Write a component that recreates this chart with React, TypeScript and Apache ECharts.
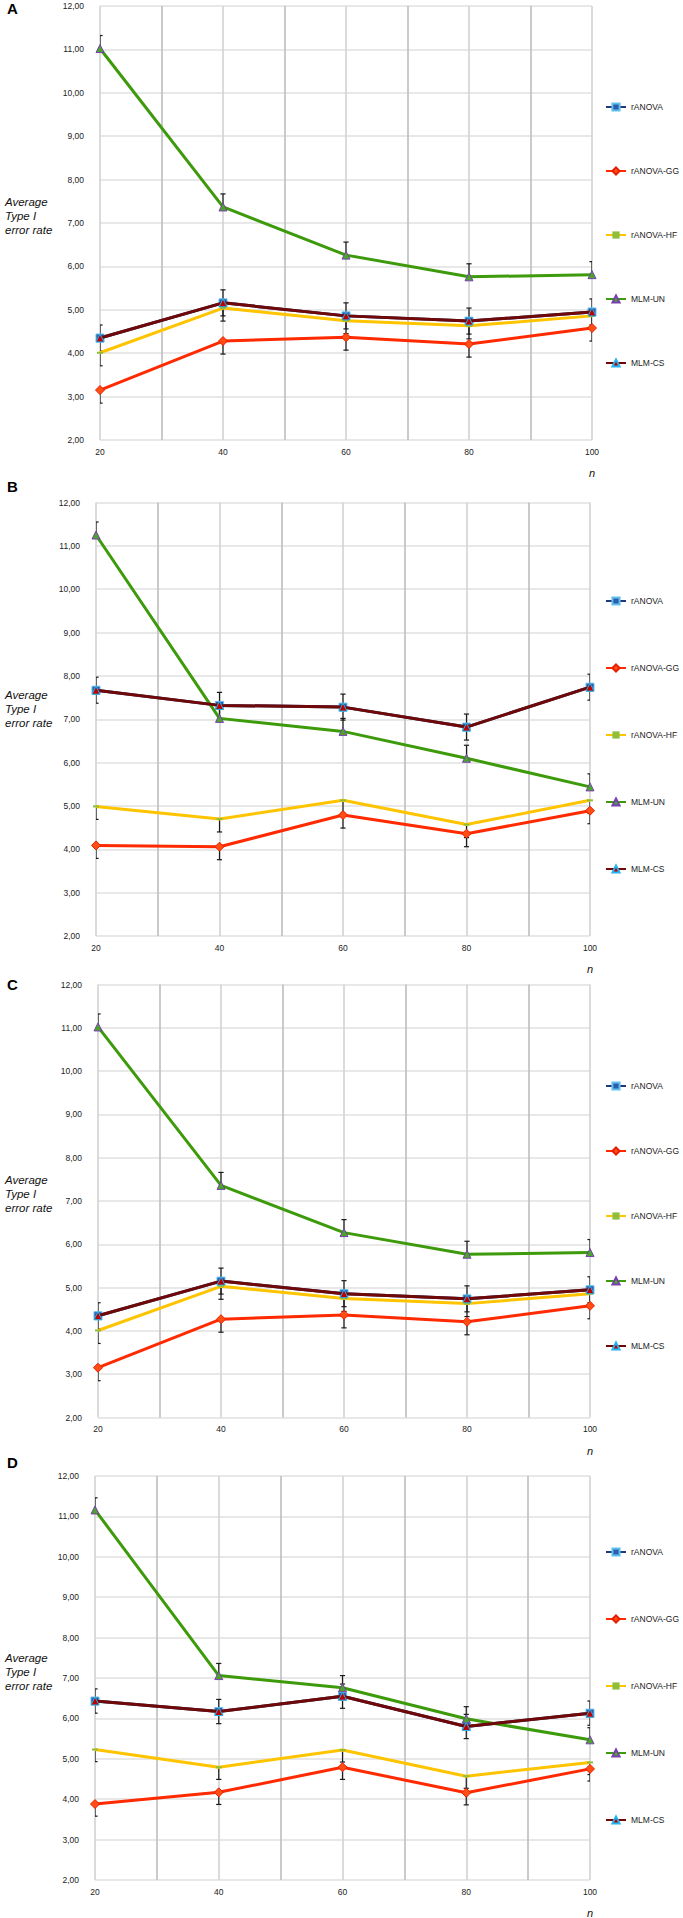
import React, { useEffect, useRef } from "react";
import * as echarts from "echarts";

// ---------- data ----------
const nValues = [20, 40, 60, 80, 100];
const seriesNames = ["rANOVA", "rANOVA-GG", "rANOVA-HF", "MLM-UN", "MLM-CS"];
const yTicks = [2, 3, 4, 5, 6, 7, 8, 9, 10, 11, 12];
const panelLabels = ["A", "B", "C", "D"];

// Panel A
const rANOVA_A = [4.35, 5.16, 4.86, 4.74, 4.95];
const rANOVAGG_A = [3.15, 4.28, 4.37, 4.21, 4.58];
const rANOVAHF_A = [4.01, 5.04, 4.75, 4.63, 4.86];
const mlmUN_A = [11.02, 7.37, 6.26, 5.76, 5.81];
const mlmCS_A = [4.35, 5.16, 4.86, 4.74, 4.95];
// Panel B
const rANOVA_B = [7.67, 7.32, 7.28, 6.82, 7.74];
const rANOVAGG_B = [4.09, 4.06, 4.79, 4.36, 4.89];
const rANOVAHF_B = [4.99, 4.7, 5.13, 4.57, 5.13];
const mlmUN_B = [11.25, 7.02, 6.72, 6.1, 5.44];
const mlmCS_B = [7.67, 7.32, 7.28, 6.82, 7.74];
// Panel C
const rANOVA_C = [4.35, 5.15, 4.86, 4.74, 4.95];
const rANOVAGG_C = [3.15, 4.27, 4.37, 4.21, 4.58];
const rANOVAHF_C = [4.01, 5.03, 4.75, 4.63, 4.86];
const mlmUN_C = [11.02, 7.36, 6.27, 5.77, 5.81];
const mlmCS_C = [4.35, 5.15, 4.86, 4.74, 4.95];
// Panel D
const rANOVA_D = [6.43, 6.17, 6.55, 5.8, 6.13];
const rANOVAGG_D = [3.88, 4.17, 4.79, 4.16, 4.75];
const rANOVAHF_D = [5.23, 4.79, 5.22, 4.57, 4.91];
const mlmUN_D = [11.16, 7.06, 6.76, 5.99, 5.47];
const mlmCS_D = [6.43, 6.17, 6.55, 5.8, 6.13];

// error bar half widths per panel
const errorHalf = [0.3, 0.3, 0.3, 0.3];
// error bar direction per series (+1 plus, -1 minus)
const errorDir = [1, -1, -1, 1, -1];

const panelValues = [
  [rANOVA_A, rANOVAGG_A, rANOVAHF_A, mlmUN_A, mlmCS_A],
  [rANOVA_B, rANOVAGG_B, rANOVAHF_B, mlmUN_B, mlmCS_B],
  [rANOVA_C, rANOVAGG_C, rANOVAHF_C, mlmUN_C, mlmCS_C],
  [rANOVA_D, rANOVAGG_D, rANOVAHF_D, mlmUN_D, mlmCS_D],
];

// ---------- layout ----------
const W = 683;
const H = 1918;
const grids = [
  { left: 100, top: 6, width: 492, height: 434 },
  { left: 96, top: 502.5, width: 494, height: 433.5 },
  { left: 98, top: 984.5, width: 492, height: 433 },
  { left: 95, top: 1476, width: 495, height: 404 },
];
const legendTops = [97, 591, 1076, 1542];
const legendGaps = [54, 57, 55, 57];
const letterY = [1, 479, 977, 1455];
const titleY = [195, 688, 1173, 1651];

const FONT = "Liberation Sans, Arial, sans-serif";

const styles = [
  {
    color: "#1f3a78",
    symbol: "rect",
    symbolSize: 8,
    itemStyle: { color: "#2b5fae", borderColor: "#63c0ee", borderWidth: 1 },
  },
  {
    color: "#ff2a00",
    symbol: "diamond",
    symbolSize: 9,
    itemStyle: { color: "#ff4d14", borderColor: "#e81e00", borderWidth: 1 },
  },
  {
    color: "#ffc400",
    symbol: "rect",
    symbolSize: [6, 2],
    itemStyle: { color: "#8fbf3a", borderWidth: 0 },
  },
  {
    color: "#3d9a0b",
    symbol: "triangle",
    symbolSize: 8,
    itemStyle: { color: "#4aa52a", borderColor: "#7a3fb0", borderWidth: 1 },
  },
  {
    color: "#700808",
    symbol: "triangle",
    symbolSize: 8,
    itemStyle: { color: "#c00000", borderColor: "#22b5f0", borderWidth: 1 },
  },
];

function errRender(params: any, api: any) {
  const x = api.value(0);
  const from = api.value(1);
  const to = api.value(2);
  const p0 = api.coord([x, from]);
  const p1 = api.coord([x, to]);
  const cs = params.coordSys;
  const rect = { x: cs.x, y: cs.y, width: cs.width, height: cs.height };
  const top = Math.min(p0[1], p1[1]);
  const h = Math.abs(p1[1] - p0[1]);
  const raw = [
    { x: p0[0] - 0.6, y: top, width: 1.2, height: h },
    { x: p1[0] - 2.6, y: p1[1] - 0.6, width: 5.2, height: 1.2 },
  ];
  const children: any[] = [];
  raw.forEach((r) => {
    const c = echarts.graphic.clipRectByRect(r, rect);
    if (c) children.push({ type: "rect", shape: c, style: { fill: "#1a1a1a" } });
  });
  return { type: "group", children };
}

function buildOption() {
  const series: any[] = [];
  const xAxis: any[] = [];
  const yAxis: any[] = [];
  const legend: any[] = [];
  const graphic: any[] = [];

  grids.forEach((g, pi) => {
    xAxis.push({
      gridIndex: pi,
      type: "value",
      min: 20,
      max: 100,
      interval: 10,
      axisLine: { show: false },
      axisTick: { show: false },
      axisLabel: {
        formatter: (v: number) => (v % 20 === 0 ? String(v) : ""),
        fontFamily: FONT,
        fontSize: 8.5,
        color: "#222",
        margin: 7,
      },
      splitLine: {
        show: true,
        lineStyle: { color: ["#d2d2d2", "#bdbdbd"], width: 1.6 },
      },
    });
    yAxis.push({
      gridIndex: pi,
      type: "value",
      min: yTicks[0],
      max: yTicks[yTicks.length - 1],
      interval: 1,
      axisLine: { show: false },
      axisTick: { show: false },
      axisLabel: {
        formatter: (v: number) => v.toFixed(2).replace(".", ","),
        fontFamily: FONT,
        fontSize: 8.5,
        color: "#222",
        margin: 16,
      },
      splitLine: { show: true, lineStyle: { color: "#e8e8e8", width: 2 } },
    });

    const vals = panelValues[pi];
    // error bars
    vals.forEach((arr, si) => {
      series.push({
        type: "custom",
        xAxisIndex: pi,
        yAxisIndex: pi,
        renderItem: errRender,
        encode: { x: 0, y: [1, 2] },
        data: arr.map((v, k) => [nValues[k], v, v + errorDir[si] * errorHalf[pi]]),
        z: 1,
        silent: true,
      });
    });
    // lines
    vals.forEach((arr, si) => {
      const s = styles[si];
      series.push({
        type: "line",
        name: seriesNames[si],
        xAxisIndex: pi,
        yAxisIndex: pi,
        data: arr.map((v, k) => [nValues[k], v]),
        symbol: s.symbol,
        symbolSize: s.symbolSize,
        showSymbol: true,
        lineStyle: { color: s.color, width: 3 },
        itemStyle: s.itemStyle,
        color: s.color,
        z: 2 + si * 0.01,
      });
    });

    legend.push({
      data: seriesNames,
      orient: "vertical",
      left: 600,
      top: legendTops[pi],
      itemGap: legendGaps[pi],
      itemWidth: 20,
      itemHeight: 9,
      selectedMode: false,
      textStyle: { fontFamily: FONT, fontSize: 8.5, color: "#222", lineHeight: 10 },
    });

    graphic.push({
      type: "text",
      left: 7,
      top: letterY[pi],
      style: {
        text: panelLabels[pi],
        font: "bold 15px " + FONT,
        fill: "#000",
      },
    });
    graphic.push({
      type: "text",
      left: 5,
      top: titleY[pi],
      style: {
        text: "Average\nType I\nerror rate",
        font: "italic 11.5px " + FONT,
        lineHeight: 14,
        fill: "#111",
      },
    });
    graphic.push({
      type: "text",
      x: g.left + g.width,
      y: g.top + g.height + 33,
      style: {
        text: "n",
        font: "italic 11px " + FONT,
        fill: "#111",
        align: "center",
        verticalAlign: "middle",
      },
    });
  });

  return {
    animation: false,
    backgroundColor: "#fff",
    grid: grids.map((g) => ({ ...g, containLabel: false })),
    xAxis,
    yAxis,
    legend,
    graphic,
    series,
  };
}

export default function App() {
  const ref = useRef<HTMLDivElement>(null);
  useEffect(() => {
    document.body.style.margin = "0";
    if (!ref.current) return;
    const chart = echarts.init(ref.current, undefined, { renderer: "svg" });
    chart.setOption(buildOption() as any);
    return () => chart.dispose();
  }, []);
  return <div ref={ref} style={{ width: W, height: H }} />;
}
